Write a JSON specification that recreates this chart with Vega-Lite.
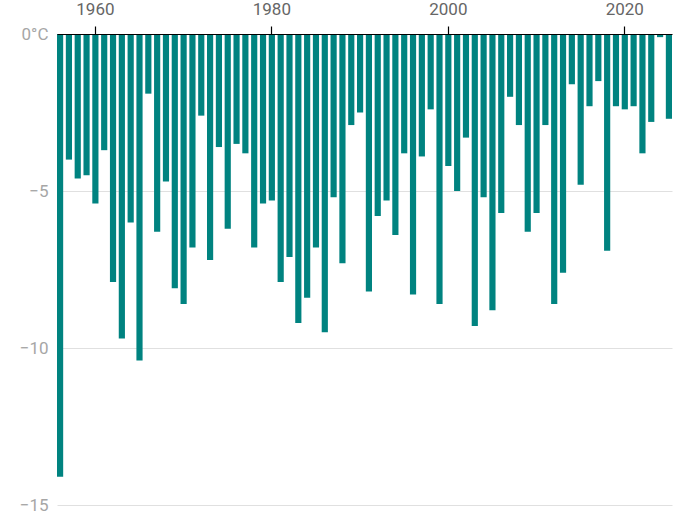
{
  "$schema": "https://vega.github.io/schema/vega-lite/v6.json",
  "width": 615,
  "height": 471,
  "autosize": {"type": "none"},
  "padding": {"left": 57, "top": 34, "right": 16, "bottom": 11},
  "data": {
    "values": [
      {"year": 1956, "temp": -14.1}, {"year": 1957, "temp": -4.0}, {"year": 1958, "temp": -4.6},
      {"year": 1959, "temp": -4.5}, {"year": 1960, "temp": -5.4}, {"year": 1961, "temp": -3.7},
      {"year": 1962, "temp": -7.9}, {"year": 1963, "temp": -9.7}, {"year": 1964, "temp": -6.0},
      {"year": 1965, "temp": -10.4}, {"year": 1966, "temp": -1.9}, {"year": 1967, "temp": -6.3},
      {"year": 1968, "temp": -4.7}, {"year": 1969, "temp": -8.1}, {"year": 1970, "temp": -8.6},
      {"year": 1971, "temp": -6.8}, {"year": 1972, "temp": -2.6}, {"year": 1973, "temp": -7.2},
      {"year": 1974, "temp": -3.6}, {"year": 1975, "temp": -6.2}, {"year": 1976, "temp": -3.5},
      {"year": 1977, "temp": -3.8}, {"year": 1978, "temp": -6.8}, {"year": 1979, "temp": -5.4},
      {"year": 1980, "temp": -5.3}, {"year": 1981, "temp": -7.9}, {"year": 1982, "temp": -7.1},
      {"year": 1983, "temp": -9.2}, {"year": 1984, "temp": -8.4}, {"year": 1985, "temp": -6.8},
      {"year": 1986, "temp": -9.5}, {"year": 1987, "temp": -5.2}, {"year": 1988, "temp": -7.3},
      {"year": 1989, "temp": -2.9}, {"year": 1990, "temp": -2.5}, {"year": 1991, "temp": -8.2},
      {"year": 1992, "temp": -5.8}, {"year": 1993, "temp": -5.3}, {"year": 1994, "temp": -6.4},
      {"year": 1995, "temp": -3.8}, {"year": 1996, "temp": -8.3}, {"year": 1997, "temp": -3.9},
      {"year": 1998, "temp": -2.4}, {"year": 1999, "temp": -8.6}, {"year": 2000, "temp": -4.2},
      {"year": 2001, "temp": -5.0}, {"year": 2002, "temp": -3.3}, {"year": 2003, "temp": -9.3},
      {"year": 2004, "temp": -5.2}, {"year": 2005, "temp": -8.8}, {"year": 2006, "temp": -5.7},
      {"year": 2007, "temp": -2.0}, {"year": 2008, "temp": -2.9}, {"year": 2009, "temp": -6.3},
      {"year": 2010, "temp": -5.7}, {"year": 2011, "temp": -2.9}, {"year": 2012, "temp": -8.6},
      {"year": 2013, "temp": -7.6}, {"year": 2014, "temp": -1.6}, {"year": 2015, "temp": -4.8},
      {"year": 2016, "temp": -2.3}, {"year": 2017, "temp": -1.5}, {"year": 2018, "temp": -6.9},
      {"year": 2019, "temp": -2.3}, {"year": 2020, "temp": -2.4}, {"year": 2021, "temp": -2.3},
      {"year": 2022, "temp": -3.8}, {"year": 2023, "temp": -2.8}, {"year": 2024, "temp": -0.1},
      {"year": 2025, "temp": -2.7}
    ]
  },
  "mark": {"type": "bar", "color": "#008380"},
  "encoding": {
    "x": {
      "field": "year",
      "type": "ordinal",
      "scale": {"paddingInner": 0.3, "paddingOuter": 0},
      "axis": {
        "orient": "top",
        "title": null,
        "values": [1960, 1980, 2000, 2020],
        "labelAngle": 0,
        "labelFont": "Roboto",
        "labelFontSize": 17,
        "labelColor": "#666666",
        "labelPadding": 8,
        "domainColor": "#000000",
        "domainWidth": 1.2,
        "tickColor": "#000000",
        "tickSize": 8,
        "tickWidth": 1.2,
        "zindex": 1
      }
    },
    "y": {
      "field": "temp",
      "type": "quantitative",
      "scale": {"domain": [-15, 0], "nice": false},
      "axis": {
        "title": null,
        "values": [0, -5, -10, -15],
        "labelExpr": "datum.value == 0 ? '0°C' : '−' + abs(datum.value)",
        "labelFont": "Roboto",
        "labelFontSize": 17,
        "labelColor": "#a6a6a6",
        "labelPadding": 9,
        "domain": false,
        "ticks": false,
        "grid": true,
        "gridColor": "#e0e0e0"
      }
    }
  },
  "config": {"view": {"stroke": null}}
}
